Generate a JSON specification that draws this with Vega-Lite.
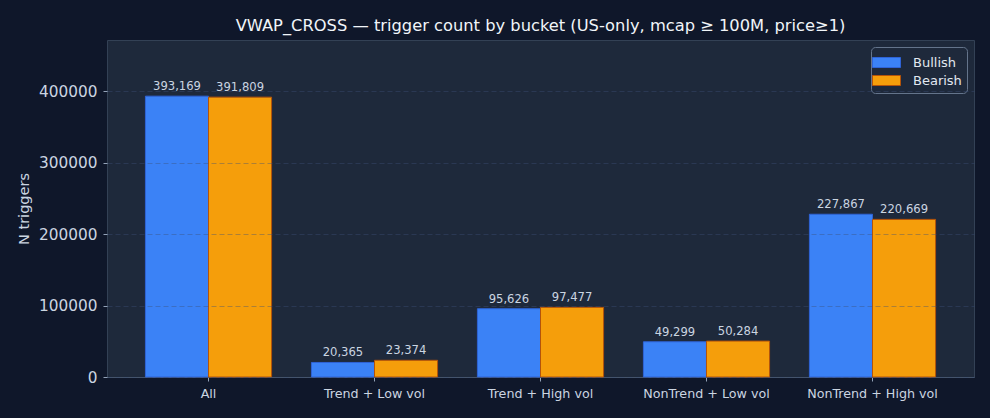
{
  "$schema": "https://vega.github.io/schema/vega-lite/v6.json",
  "width": 867,
  "height": 337,
  "autosize": "none",
  "padding": {"left": 107, "top": 40, "right": 16, "bottom": 41},
  "background": "#0f172a",
  "title": {
    "text": "VWAP_CROSS — trigger count by bucket (US-only, mcap ≥ 100M, price≥1)",
    "font": "DejaVu Sans",
    "fontSize": 16.3,
    "fontWeight": "normal",
    "color": "#f1f5f9",
    "anchor": "middle",
    "offset": 6
  },
  "config": {
    "view": {"fill": "#1e293b", "stroke": "#334155", "strokeWidth": 1},
    "font": "DejaVu Sans"
  },
  "data": {
    "values": [
      {"bucket": "All", "direction": "Bullish", "n": 393169},
      {"bucket": "All", "direction": "Bearish", "n": 391809},
      {"bucket": "Trend + Low vol", "direction": "Bullish", "n": 20365},
      {"bucket": "Trend + Low vol", "direction": "Bearish", "n": 23374},
      {"bucket": "Trend + High vol", "direction": "Bullish", "n": 95626},
      {"bucket": "Trend + High vol", "direction": "Bearish", "n": 97477},
      {"bucket": "NonTrend + Low vol", "direction": "Bullish", "n": 49299},
      {"bucket": "NonTrend + Low vol", "direction": "Bearish", "n": 50284},
      {"bucket": "NonTrend + High vol", "direction": "Bullish", "n": 227867},
      {"bucket": "NonTrend + High vol", "direction": "Bearish", "n": 220669}
    ]
  },
  "encoding": {
    "x": {
      "field": "bucket",
      "type": "nominal",
      "sort": null,
      "scale": {"paddingInner": 0.24, "paddingOuter": 0.2315},
      "axis": {
        "title": null,
        "labelAngle": 0,
        "labelColor": "#cbd5e1",
        "labelFontSize": 12.7,
        "labelPadding": 6,
        "tickColor": "#94a3b8",
        "tickSize": 4,
        "domainColor": "#475569"
      }
    },
    "xOffset": {
      "field": "direction",
      "type": "nominal",
      "sort": ["Bullish", "Bearish"],
      "scale": {"paddingInner": 0, "paddingOuter": 0}
    },
    "y": {
      "field": "n",
      "type": "quantitative",
      "scale": {"domain": [0, 471803], "nice": false, "zero": true},
      "axis": {
        "title": "N triggers",
        "titleColor": "#cbd5e1",
        "titleFontSize": 14.5,
        "titleFontWeight": "normal",
        "titlePadding": 7,
        "values": [0, 100000, 200000, 300000, 400000],
        "format": "d",
        "labelColor": "#cbd5e1",
        "labelFontSize": 15.3,
        "labelPadding": 6,
        "tickColor": "#94a3b8",
        "tickSize": 4,
        "domain": false,
        "grid": true,
        "gridColor": "#3b4f78",
        "gridOpacity": 0.4,
        "gridDash": [5, 3],
        "zindex": 1
      }
    }
  },
  "layer": [
    {
      "mark": {"type": "bar", "strokeWidth": 1},
      "encoding": {
        "fill": {
          "field": "direction",
          "type": "nominal",
          "sort": ["Bullish", "Bearish"],
          "scale": {"domain": ["Bullish", "Bearish"], "range": ["#3b82f6", "#f59e0b"]},
          "legend": {
            "title": null,
            "orient": "top-right",
            "offset": 7,
            "fillColor": "#1e293b",
            "strokeColor": "#64748b",
            "cornerRadius": 4,
            "padding": 5,
            "symbolType": "M-1.4,-0.5H1.4V0.5H-1.4Z",
            "symbolSize": 400,
            "symbolStrokeWidth": 1,
            "labelColor": "#e2e8f0",
            "labelFontSize": 13,
            "labelOffset": 16,
            "rowPadding": 0
          }
        },
        "stroke": {
          "field": "direction",
          "type": "nominal",
          "sort": ["Bullish", "Bearish"],
          "scale": {"domain": ["Bullish", "Bearish"], "range": ["#2f63d6", "#b45309"]},
          "legend": null
        }
      }
    },
    {
      "mark": {"type": "text", "baseline": "bottom", "dy": -4, "color": "#cbd5e1", "fontSize": 11.6},
      "encoding": {
        "text": {"field": "n", "type": "quantitative", "format": ","}
      }
    }
  ]
}
